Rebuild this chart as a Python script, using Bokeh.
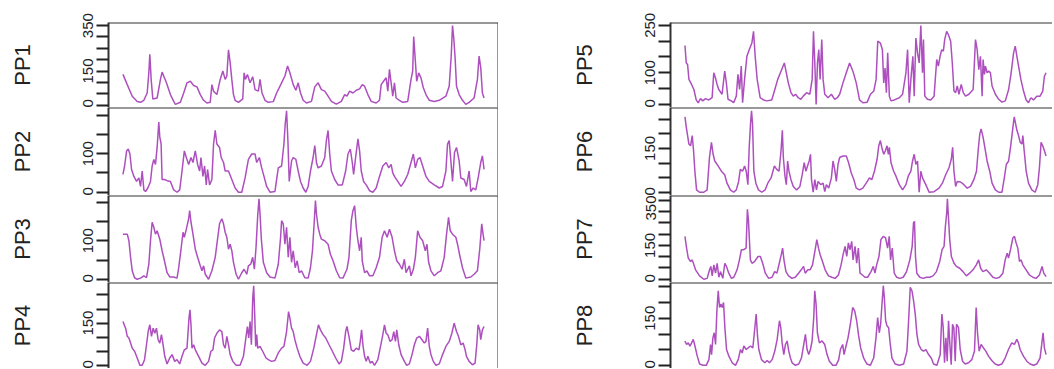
from bokeh.plotting import figure
from bokeh.layouts import gridplot
from bokeh.models import Range1d, FixedTicker, Span, ColumnDataSource
from bokeh.embed import file_html
from bokeh.resources import INLINE

# ---- data: (time index, value) ----
PP1 = [(0,135),(13,90),(28,39),(43,16),(53,12),(63,21),(73,53),(78,142),(81,224),(85,113),(90,27),(103,31),(113,113),(118,145),(125,120),(131,98),(143,46),(153,16),(158,3),(173,12),(183,53),(193,98),(203,105),(213,86),(223,80),(233,46),(243,21),(253,9),(263,12),(268,90),(273,61),(283,46),(293,113),(301,150),(308,113),(313,128),(318,243),(323,187),(328,113),(333,46),(338,21),(348,12),(361,27),(365,142),(369,113),(375,135),(383,98),(391,125),(398,68),(408,61),(413,113),(419,53),(428,21),(438,12),(453,15),(463,53),(478,98),(488,128),(496,172),(503,142),(513,90),(521,65),(528,98),(535,53),(543,21),(553,9),(568,16),(578,80),(588,98),(598,68),(608,61),(618,39),(628,16),(643,4),(658,16),(668,46),(675,39),(683,61),(693,53),(703,65),(713,71),(721,90),(728,83),(738,46),(748,16),(763,9),(773,21),(778,90),(785,105),(793,120),(798,61),(803,157),(808,98),(813,39),(818,98),(823,31),(833,21),(843,12),(858,16),(868,113),(873,150),(876,302),(880,216),(885,105),(891,142),(898,120),(905,76),(913,46),(923,21),(938,16),(953,21),(973,39),(983,83),(989,216),(993,350),(997,290),(1001,202),(1005,83),(1013,46),(1023,21),(1033,3),(1043,12),(1058,31),(1068,113),(1073,216),(1078,165),(1083,53),(1088,31)]

PP2 = [(0,46),(5,68),(11,107),(16,112),(21,99),(26,59),(33,41),(41,28),(48,37),(53,15),(58,55),(63,6),(68,2),(75,11),(83,28),(88,68),(93,85),(98,72),(103,116),(108,182),(111,143),(115,125),(118,33),(125,33),(133,30),(143,28),(153,6),(163,0),(171,6),(178,55),(185,107),(191,90),(198,72),(205,90),(211,77),(218,107),(225,72),(231,55),(235,90),(241,41),(246,68),(251,19),(255,59),(261,19),(268,33),(273,125),(278,160),(283,125),(291,116),(296,90),(303,77),(308,55),(318,55),(328,33),(338,11),(348,0),(358,0),(368,37),(378,85),(388,99),(398,99),(403,77),(411,90),(418,63),(425,41),(433,15),(443,0),(458,2),(468,63),(478,68),(485,125),(489,178),(493,211),(497,134),(501,28),(508,81),(513,90),(521,85),(528,55),(535,28),(543,11),(551,0),(558,15),(565,55),(573,90),(578,121),(583,77),(588,63),(598,68),(608,90),(613,134),(618,160),(623,99),(628,55),(638,33),(648,19),(661,19),(671,55),(678,99),(685,112),(691,77),(695,46),(701,90),(708,138),(713,107),(718,55),(725,28),(733,19),(743,4),(753,0),(763,11),(773,41),(783,68),(793,77),(801,63),(808,72),(813,50),(818,41),(828,28),(838,15),(848,28),(858,46),(868,77),(875,99),(881,63),(888,85),(895,90),(903,68),(913,41),(923,28),(938,19),(953,11),(963,15),(973,55),(978,125),(983,134),(988,81),(993,28),(999,103),(1005,116),(1013,81),(1018,37),(1028,33),(1035,15),(1043,55),(1048,2),(1055,11),(1063,6),(1071,41),(1078,77),(1083,94),(1088,59)]

PP3 = [(0,117),(13,117),(18,100),(23,57),(28,22),(35,4),(43,0),(53,3),(63,9),(71,4),(78,39),(83,100),(88,148),(93,135),(98,117),(103,126),(111,104),(118,74),(125,48),(133,17),(141,6),(153,6),(163,3),(168,30),(175,78),(181,122),(185,109),(191,130),(198,157),(201,178),(205,148),(211,117),(218,78),(225,57),(233,35),(238,22),(243,35),(248,13),(258,0),(268,22),(278,57),(285,104),(291,144),(298,157),(303,144),(308,122),(313,109),(318,78),(323,91),(328,74),(333,44),(341,13),(348,0),(358,17),(365,26),(373,13),(378,35),(385,39),(391,57),(396,26),(401,83),(406,165),(410,209),(413,170),(417,104),(423,44),(433,17),(443,6),(458,3),(468,39),(475,109),(478,152),(483,144),(488,91),(493,135),(498,57),(503,109),(508,44),(513,74),(519,30),(525,48),(531,17),(538,22),(548,4),(558,3),(565,30),(571,74),(576,144),(580,204),(583,170),(588,135),(593,117),(598,104),(608,100),(618,91),(625,65),(633,48),(643,22),(653,4),(663,3),(668,13),(675,26),(681,57),(688,152),(693,178),(698,191),(703,135),(708,100),(713,74),(718,109),(721,48),(728,17),(735,22),(743,9),(753,9),(763,30),(773,57),(781,109),(788,126),(796,109),(803,130),(811,109),(818,74),(825,48),(833,39),(841,26),(848,52),(853,17),(863,35),(868,9),(875,26),(881,57),(888,126),(895,109),(903,100),(911,74),(916,91),(921,44),(928,22),(938,9),(948,17),(958,22),(968,57),(975,117),(981,161),(986,126),(993,117),(1003,109),(1008,91),(1015,61),(1023,30),(1033,3),(1048,6),(1058,13),(1068,22),(1075,78),(1081,144),(1085,117),(1088,100)]

PP4 = [(0,156),(8,132),(13,103),(18,97),(23,79),(28,61),(35,50),(43,26),(51,0),(58,0),(65,20),(71,73),(76,120),(81,144),(86,103),(91,132),(96,114),(101,132),(106,91),(111,79),(116,109),(121,73),(126,32),(133,5),(141,26),(148,38),(156,14),(163,20),(171,5),(178,32),(185,55),(193,61),(199,168),(202,197),(205,144),(208,61),(213,73),(218,55),(228,32),(238,8),(248,0),(258,14),(265,50),(271,55),(276,97),(283,114),(291,126),(298,120),(303,73),(308,61),(313,103),(318,73),(323,38),(331,14),(341,0),(353,0),(363,32),(371,103),(375,138),(379,97),(383,156),(387,73),(391,238),(394,283),(397,179),(400,67),(403,109),(406,61),(413,67),(421,50),(431,26),(438,20),(448,14),(458,17),(468,44),(478,61),(485,67),(493,120),(499,191),(503,168),(508,132),(513,120),(518,91),(525,61),(533,32),(543,8),(555,0),(565,14),(575,61),(583,109),(589,144),(595,126),(603,109),(611,97),(621,73),(631,50),(641,26),(651,5),(658,14),(665,61),(671,120),(675,138),(681,103),(688,55),(695,50),(703,61),(711,55),(715,85),(719,126),(723,73),(728,32),(733,14),(738,32),(745,8),(751,14),(758,0),(768,20),(775,61),(783,109),(788,144),(793,114),(798,109),(805,85),(811,91),(816,120),(821,85),(825,126),(831,73),(838,38),(848,14),(855,0),(863,5),(871,38),(878,73),(885,97),(893,103),(901,91),(908,79),(913,85),(918,132),(923,67),(928,38),(935,14),(943,0),(953,5),(963,38),(973,67),(983,85),(991,114),(998,150),(1005,120),(1011,103),(1018,73),(1025,79),(1031,55),(1035,32),(1043,14),(1053,2),(1061,8),(1066,73),(1070,144),(1075,126),(1078,91),(1083,126),(1088,138)]

PP5 = [(0,186),(4,131),(8,126),(12,79),(20,63),(27,47),(34,14),(40,5),(47,18),(54,11),(62,18),(72,14),(82,21),(87,100),(92,84),(97,63),(102,47),(112,32),(120,105),(125,68),(130,16),(140,11),(147,5),(155,26),(160,95),(165,47),(170,121),(174,5),(180,79),(187,152),(194,173),(202,194),(207,231),(212,152),(218,79),(227,21),(237,14),(247,11),(262,14),(270,42),(280,79),(290,105),(300,131),(305,105),(312,68),(320,37),(327,26),(334,32),(342,21),(350,16),(357,26),(367,37),(377,32),(384,79),(388,231),(392,131),(396,0),(400,131),(404,173),(408,79),(413,205),(417,79),(422,32),(432,21),(442,32),(452,16),(460,21),(467,32),(477,68),(487,100),(497,131),(507,105),(517,68),(527,14),(537,5),(550,7),(560,32),(570,42),(577,79),(582,200),(590,194),(596,173),(600,68),(604,115),(608,37),(612,163),(617,26),(622,11),(632,14),(647,21),(657,32),(667,100),(672,173),(677,5),(682,79),(688,152),(692,26),(697,210),(702,163),(707,131),(712,249),(717,100),(720,205),(724,26),(732,16),(742,14),(752,26),(760,142),(765,121),(770,152),(775,173),(780,168),(784,205),(790,231),(795,221),(802,200),(807,131),(812,42),(817,37),(822,58),(827,32),(834,63),(840,37),(847,26),(857,32),(870,47),(877,205),(882,173),(887,110),(892,152),(897,26),(900,142),(904,95),(907,121),(912,100),(917,105),(922,100),(927,58),(937,32),(947,16),(957,7),(967,11),(977,47),(984,95),(992,163),(997,184),(1002,152),(1007,121),(1014,79),(1022,42),(1030,14),(1037,5),(1044,21),(1052,14),(1062,26),(1072,26),(1080,42),(1085,89),(1090,100)]

PP6 = [(0,258),(4,223),(8,194),(12,165),(17,159),(22,194),(26,142),(30,72),(35,8),(44,0),(57,0),(67,8),(74,119),(80,171),(85,130),(90,107),(100,90),(110,72),(120,60),(127,31),(137,8),(147,0),(155,8),(162,37),(167,78),(174,72),(180,90),(185,72),(190,26),(194,154),(198,235),(201,279),(204,235),(208,72),(214,31),(222,8),(232,0),(242,8),(250,31),(260,49),(270,90),(277,78),(284,72),(290,142),(294,212),(297,119),(302,55),(306,26),(310,107),(314,72),(320,43),(327,20),(337,8),(347,20),(354,60),(360,101),(365,72),(370,90),(375,107),(379,130),(382,43),(387,0),(392,43),(397,8),(402,37),(410,26),(417,31),(422,2),(427,26),(434,14),(442,49),(447,107),(452,78),(457,37),(462,95),(467,119),(477,124),(487,124),(494,101),(502,66),(510,43),(517,14),(527,8),(537,14),(547,31),(557,49),(564,43),(572,72),(580,113),(585,159),(590,177),(594,154),(600,130),(605,142),(610,159),(614,130),(617,154),(622,101),(630,72),(637,55),(647,26),(657,8),(667,26),(674,55),(682,72),(687,107),(692,130),(697,95),(702,107),(707,0),(712,72),(717,49),(727,26),(737,0),(752,2),(767,14),(777,31),(787,60),(797,84),(804,113),(808,154),(812,72),(817,20),(822,37),(832,35),(842,26),(852,14),(862,20),(872,43),(880,72),(885,142),(890,200),(894,217),(900,188),(907,142),(912,107),(920,72),(927,31),(937,8),(947,0),(957,0),(964,49),(970,95),(977,107),(984,165),(990,223),(994,258),(998,235),(1002,212),(1007,194),(1012,171),(1017,165),(1020,194),(1024,142),(1030,72),(1037,31),(1047,8),(1057,0),(1065,26),(1070,84),(1075,171),(1080,159),(1085,142),(1090,124)]

PP7 = [(0,190),(5,138),(10,94),(17,79),(22,86),(32,42),(44,15),(57,0),(67,4),(74,42),(78,57),(82,15),(87,64),(92,27),(97,71),(102,9),(107,34),(114,4),(120,71),(125,57),(132,27),(140,4),(147,9),(157,42),(164,86),(170,131),(177,131),(184,138),(188,310),(191,265),(194,176),(197,86),(202,71),(210,79),(220,101),(227,101),(234,71),(242,27),(252,4),(262,9),(270,34),(277,27),(284,71),(290,109),(294,138),(298,86),(304,34),(312,15),(322,4),(332,9),(342,27),(350,42),(357,57),(362,27),(370,42),(377,42),(384,64),(392,131),(397,176),(402,138),(407,109),(414,79),(422,42),(432,15),(442,9),(452,4),(462,19),(470,64),(476,109),(482,146),(487,101),(492,161),(497,131),(502,168),(506,86),(512,146),(517,71),(522,138),(527,27),(534,19),(542,9),(550,9),(560,34),(567,57),(572,27),(577,64),(584,101),(590,176),(597,190),(604,183),(610,138),(615,190),(619,86),(624,138),(630,27),(637,9),(647,4),(657,9),(667,34),(677,86),(684,146),(688,250),(691,257),(694,101),(698,27),(707,9),(717,4),(727,9),(737,9),(747,15),(757,34),(767,79),(774,131),(780,146),(784,235),(788,295),(790,357),(793,280),(797,176),(802,101),(810,71),(817,57),(827,49),(837,34),(847,15),(857,27),(867,42),(877,64),(884,86),(890,49),(897,34),(907,42),(917,27),(927,9),(937,4),(947,9),(957,27),(964,86),(970,116),(974,94),(980,131),(987,183),(992,190),(997,161),(1002,138),(1007,79),(1012,86),(1017,64),(1027,42),(1037,19),(1047,9),(1057,4),(1067,19),(1075,57),(1080,27),(1087,12)]

PP8 = [(0,78),(5,67),(10,72),(15,62),(20,72),(25,83),(30,62),(37,30),(44,5),(54,1),(64,1),(72,19),(77,67),(80,35),(84,88),(88,104),(92,67),(96,173),(100,237),(104,184),(108,195),(112,184),(116,200),(120,120),(125,51),(132,30),(142,9),(152,1),(160,19),(167,51),(172,40),(177,62),(184,51),(190,56),(197,62),(204,56),(210,120),(214,163),(218,94),(222,51),(230,19),(240,9),(247,16),(254,9),(262,19),(270,46),(277,83),(284,142),(288,120),(292,72),(297,35),(302,67),(307,78),(312,46),(317,24),(322,9),(332,1),(342,5),(350,24),(357,67),(362,99),(367,51),(372,35),(377,51),(382,78),(387,152),(390,237),(394,195),(398,104),(404,72),(412,78),(420,67),(427,35),(434,14),(444,1),(454,1),(462,19),(467,51),(474,67),(478,35),(484,62),(490,88),(497,131),(504,184),(510,173),(516,142),(522,94),(528,56),(537,24),(547,5),(557,1),(567,24),(574,88),(579,152),(584,104),(588,131),(592,195),(596,253),(599,216),(603,142),(607,126),(612,120),(617,67),(622,24),(632,5),(644,1),(657,5),(667,46),(672,142),(677,248),(682,237),(687,205),(692,163),(697,99),(702,67),(710,51),(717,46),(724,51),(732,35),(740,24),(747,5),(757,1),(767,35),(772,163),(776,120),(780,9),(784,88),(788,14),(792,142),(796,67),(800,3),(804,131),(808,120),(812,14),(816,131),(822,120),(827,51),(834,14),(842,5),(852,9),(862,19),(870,46),(875,184),(879,104),(884,46),(890,67),(897,56),(904,46),(912,30),(922,16),(932,5),(942,1),(952,5),(962,24),(972,51),(982,72),(990,67),(997,83),(1002,72),(1007,51),(1017,30),(1027,14),(1037,5),(1047,1),(1057,5),(1067,24),(1072,67),(1076,104),(1080,56),(1085,35)]

SERIES_NAMES = ["PP1", "PP2", "PP3", "PP4", "PP5", "PP6", "PP7", "PP8"]
SERIES = [PP1, PP2, PP3, PP4, PP5, PP6, PP7, PP8]

# y-axis ticks (every 50) and the tick values that carry a label
TICKS = [
    [0, 50, 100, 150, 200, 250, 300, 350],
    [0, 50, 100, 150, 200],
    [0, 50, 100, 150, 200],
    [0, 50, 100, 150, 200, 250],
    [0, 50, 100, 150, 200, 250],
    [0, 50, 100, 150, 200, 250],
    [0, 50, 100, 150, 200, 250, 300, 350],
    [0, 50, 100, 150, 200, 250],
]
LABELED = [
    [0, 150, 350],
    [0, 100],
    [0, 100],
    [0, 150],
    [0, 100, 250],
    [0, 150],
    [0, 150, 350],
    [0, 150],
]

# ---- styling / layout ----
LINE_COLOR = "#AD4FBE"
AXIS_COLOR = "#333333"
FONT = "Liberation Sans"
LEFT_FRAME_W = 390
RIGHT_FRAME_W = 382
LEFT_BORDER = [108, 172]
ROW_H = [85, 88, 87, 86]
TOP_BORDER = 22


def make_panel(idx):
    col = idx // 4
    row = idx % 4
    pts = SERIES[idx]
    ts = [p[0] for p in pts]
    vs = [p[1] for p in pts]
    tspan = max(ts) - min(ts)
    xstart = min(ts) - 0.04 * tspan
    units_per_px = 1.08 * tspan / LEFT_FRAME_W
    fw = LEFT_FRAME_W if col == 0 else RIGHT_FRAME_W
    xend = xstart + fw * units_per_px
    vmin, vmax = min(vs), max(vs)
    pad = 0.04 * (vmax - vmin)
    ystart, yend = vmin - pad, vmax + pad

    p = figure(
        frame_width=fw, frame_height=ROW_H[row],
        x_range=Range1d(xstart, xend), y_range=Range1d(ystart, yend),
        x_axis_location=None, toolbar_location=None, tools="",
        output_backend="svg",
        background_fill_color="white", border_fill_color="white",
    )
    p.min_border_left = LEFT_BORDER[col]
    p.min_border_right = 0
    p.min_border_top = TOP_BORDER if row == 0 else 0
    p.min_border_bottom = 0
    p.outline_line_color = None
    p.xgrid.visible = False
    p.ygrid.visible = False

    src = ColumnDataSource(dict(t=ts, v=vs))
    p.line("t", "v", source=src, line_color=LINE_COLOR, line_width=1.5)

    ax = p.yaxis[0]
    ax.ticker = FixedTicker(ticks=TICKS[idx], minor_ticks=[])
    ax.major_label_overrides = {tk: ("" if tk not in LABELED[idx] else str(tk)) for tk in TICKS[idx]}
    ax.major_label_orientation = "parallel"
    ax.major_label_text_font = FONT
    ax.major_label_text_font_size = "15px"
    ax.major_label_text_color = "#222222"
    ax.major_label_standoff = 3
    ax.major_tick_out = 12
    ax.major_tick_in = 0
    ax.major_tick_line_color = "#222222"
    ax.major_tick_line_width = 2
    ax.minor_tick_line_color = None
    ax.axis_line_color = AXIS_COLOR
    ax.axis_line_width = 2
    ax.axis_label = SERIES_NAMES[idx]
    ax.axis_label_text_font = FONT
    ax.axis_label_text_font_size = "22px"
    ax.axis_label_text_font_style = "normal"
    ax.axis_label_text_color = "#222222"
    ax.axis_label_standoff = 46

    # panel box: top edge (shared with the panel above) and right edge on the left column
    p.add_layout(Span(location=yend, dimension="width", line_color=AXIS_COLOR, line_width=2))
    if col == 0:
        p.add_layout(Span(location=xend, dimension="height", line_color=AXIS_COLOR, line_width=2))
    return p


panels = [make_panel(i) for i in range(8)]
grid = gridplot([[panels[r], panels[4 + r]] for r in range(4)], toolbar_location=None)

open("out.html", "w").write(file_html(grid, INLINE))
